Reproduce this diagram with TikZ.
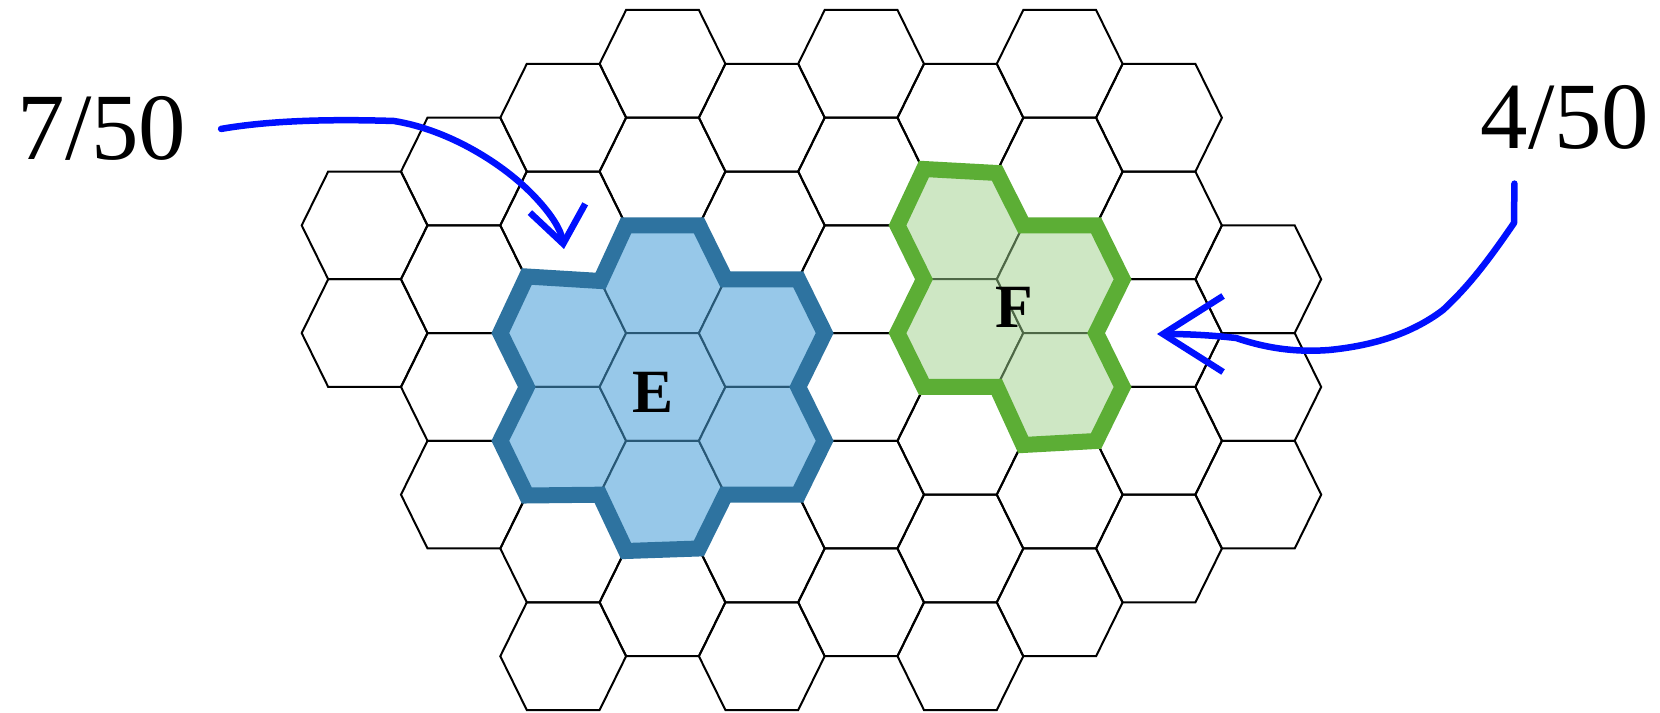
\documentclass[tikz,border=0pt]{standalone}
\usepackage{fontspec}
\setmainfont{Liberation Serif}
\usetikzlibrary{arrows.meta}
\definecolor{eborder}{RGB}{46,115,160}
\definecolor{efill}{RGB}{151,200,233}
\definecolor{eline}{RGB}{40,88,118}
\definecolor{fborder}{RGB}{92,174,53}
\definecolor{ffill}{RGB}{206,231,196}
\definecolor{fline}{RGB}{78,104,70}
\definecolor{pen}{RGB}{0,16,255}
\begin{document}
\begin{tikzpicture}[x=0.1mm,y=-0.1mm]
	\def \hexw{62.9}
	\def \hext{36.4}
	\def \hexh{53.85}
	\def \hexs{26.5}
	\def \xzero{364.6}
	\def \colsep{99.3}
	\def \yzero{10}
	\tikzstyle{cell}=[draw=black,line width=0.2mm]
	\tikzstyle{e-cell}=[draw=eline,fill=efill,line width=0.2mm]
	\tikzstyle{f-cell}=[draw=fline,fill=ffill,line width=0.2mm]
	\tikzstyle{e-edge}=[draw=eborder,line width=1.6mm]
	\tikzstyle{f-edge}=[draw=fborder,line width=1.6mm]
	\tikzstyle{annot}=[inner sep=0pt,font=\fontsize{27}{32}\selectfont]
	\tikzstyle{region}=[inner sep=0pt,font=\fontsize{17.5}{21}\selectfont\bfseries]
	\tikzstyle{hand}=[draw=pen,line width=0.65mm,line cap=round,line join=round]
	\def \hexat#1#2#3{\draw[#3] (\xzero+\colsep*#1,\yzero+\hexh*#2) ++(-\hexw,0) -- ++(\hexs,-\hexh) -- ++(2*\hext,0) -- ++(\hexs,\hexh) -- ++(-\hexs,\hexh) -- ++(-2*\hext,0) -- cycle;}
	\useasboundingbox (0,0) rectangle (1660,713);

	% grid, column by column
	\hexat{0}{4}{cell} \hexat{0}{6}{cell}
	\hexat{1}{3}{cell} \hexat{1}{5}{cell} \hexat{1}{7}{cell} \hexat{1}{9}{cell}
	\hexat{2}{2}{cell} \hexat{2}{4}{cell} \hexat{2}{6}{cell} \hexat{2}{8}{cell} \hexat{2}{10}{cell} \hexat{2}{12}{cell}
	\hexat{3}{1}{cell} \hexat{3}{3}{cell} \hexat{3}{5}{cell} \hexat{3}{7}{cell} \hexat{3}{9}{cell} \hexat{3}{11}{cell}
	\hexat{4}{2}{cell} \hexat{4}{4}{cell} \hexat{4}{6}{cell} \hexat{4}{8}{cell} \hexat{4}{10}{cell} \hexat{4}{12}{cell}
	\hexat{5}{1}{cell} \hexat{5}{3}{cell} \hexat{5}{5}{cell} \hexat{5}{7}{cell} \hexat{5}{9}{cell} \hexat{5}{11}{cell}
	\hexat{6}{2}{cell} \hexat{6}{4}{cell} \hexat{6}{6}{cell} \hexat{6}{8}{cell} \hexat{6}{10}{cell} \hexat{6}{12}{cell}
	\hexat{7}{1}{cell} \hexat{7}{3}{cell} \hexat{7}{5}{cell} \hexat{7}{7}{cell} \hexat{7}{9}{cell} \hexat{7}{11}{cell}
	\hexat{8}{2}{cell} \hexat{8}{4}{cell} \hexat{8}{6}{cell} \hexat{8}{8}{cell} \hexat{8}{10}{cell}
	\hexat{9}{5}{cell} \hexat{9}{7}{cell} \hexat{9}{9}{cell}

	% region E
	\hexat{2}{6}{e-cell} \hexat{2}{8}{e-cell}
	\hexat{3}{5}{e-cell} \hexat{3}{7}{e-cell} \hexat{3}{9}{e-cell}
	\hexat{4}{6}{e-cell} \hexat{4}{8}{e-cell}
	\draw[e-edge] (500.3,333.1) -- (526.8,276.5) -- (600.5,281) -- (626.1,225.4) -- (698.9,225.4) -- (725.4,279.3)
		-- (798.2,279.3) -- (824.7,333.1) -- (798.2,387) -- (824.7,440.8) -- (798.2,494.7) -- (725.4,494.7)
		-- (698.9,548.5) -- (626.1,551) -- (599.6,494.7) -- (526.8,495.5) -- (500.3,440.8) -- (526.8,387) -- cycle;

	% region F
	\hexat{6}{4}{f-cell} \hexat{6}{6}{f-cell}
	\hexat{7}{5}{f-cell} \hexat{7}{7}{f-cell}
	\draw[f-edge] (897.5,225.4) -- (924,169) -- (997,173) -- (1023.3,225.4) -- (1096.1,225.4) -- (1122.6,279.3)
		-- (1096.1,333.1) -- (1122.6,387) -- (1096.1,441) -- (1023.3,445) -- (996.8,387) -- (924,387)
		-- (897.5,333.1) -- (924,279.3) -- cycle;

	% labels
	\node[region] (e-label) at (653,392.5) {E};
	\node[region] (f-label) at (1014.7,307) {F};
	\node[annot,anchor=base west] (frac-e) at (17,160) {7/50};
	\node[annot,anchor=base east] (frac-f) at (1650,149) {4/50};

	% arrows
	\coordinate (e-tip) at (564,249);
	\coordinate (f-tip) at (1157,334);
	\draw[hand,-{Straight Barb[length=3.6mm,width=5.6mm]}] ([xshift=3.4mm]frac-e.east)
		.. controls (250,124) and (300,118) .. (394,121)
		.. controls (450,130) and (505,165) .. (535,197)
		.. controls (552,215) and (561,230) .. (e-tip);
	\draw[hand,-{Straight Barb[length=6mm,width=7.6mm]}] ([xshift=-5.05mm,yshift=-3.3mm]frac-f.south) -- (1514,223)
		.. controls (1490,258) and (1470,285) .. (1443,310)
		.. controls (1410,335) and (1370,346) .. (1329,350)
		.. controls (1290,353) and (1260,346) .. (1236,338)
		.. controls (1210,335) and (1185,334) .. (f-tip);
\end{tikzpicture}
\end{document}
